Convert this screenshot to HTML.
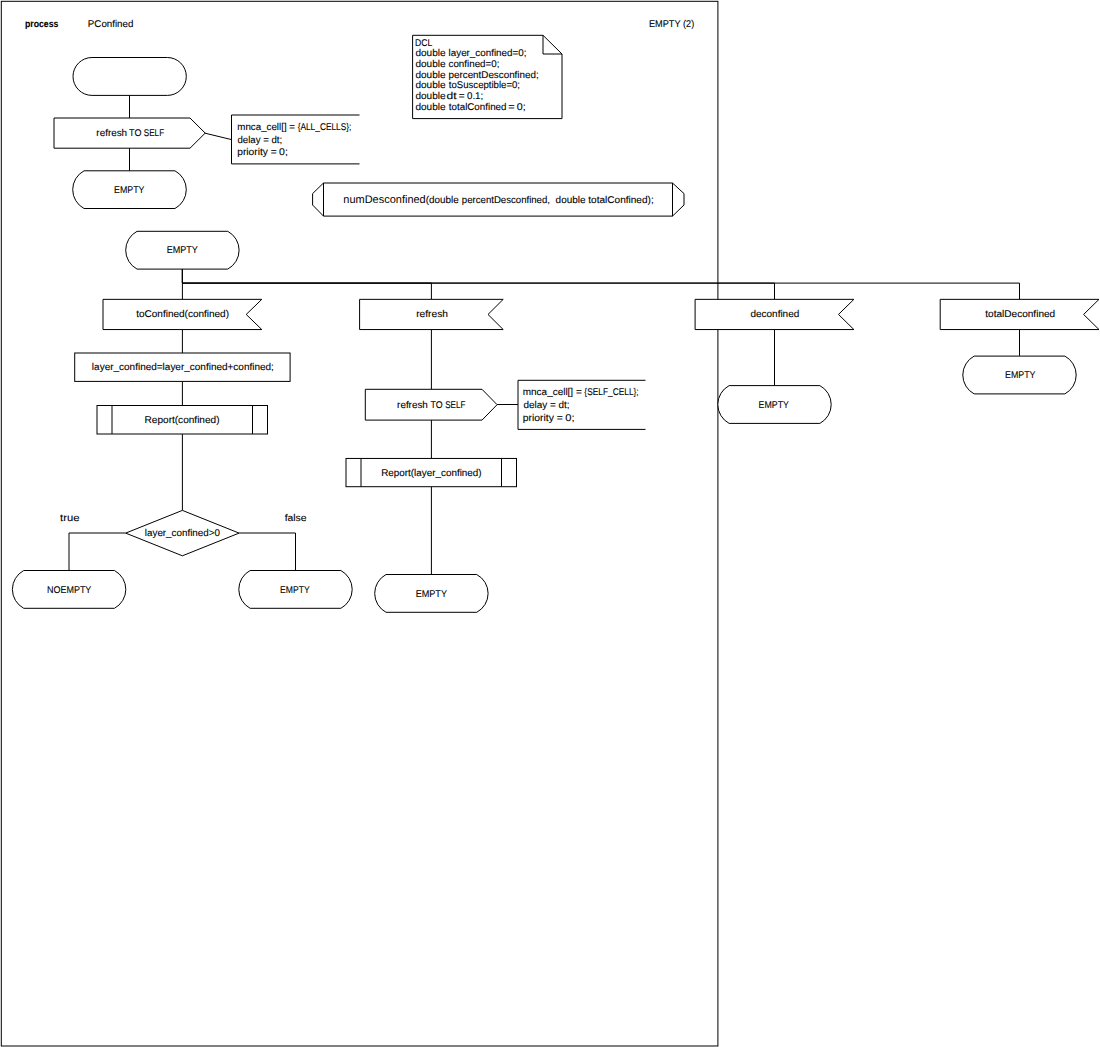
<!DOCTYPE html>
<html lang="en"><head><meta charset="utf-8"><title>process PConfined - EMPTY (2)</title>
<style>
html,body{margin:0;padding:0;background:#fff;}
body{width:1100px;height:1047px;overflow:hidden;}
svg{display:block;}
text{font-family:"Liberation Sans",sans-serif;fill:#000;stroke:#000;stroke-width:0.1px;text-rendering:geometricPrecision;}
</style></head>
<body>
<svg width="1100" height="1047" viewBox="0 0 1100 1047">
<rect x="0" y="0" width="1100" height="1047" fill="#fff"/>
<rect x="1.3" y="1.3" width="716.6" height="1044.7" fill="none" stroke="#000" stroke-width="1"/>
<g stroke="#000" stroke-width="1" fill="none">
<path d="M129.5,95 L129.5,118" fill="none"/>
<path d="M129.5,148 L129.5,171" fill="none"/>
<path d="M204.7,133.1 L231.5,139.6" fill="none"/>
<path d="M182.4,268.5 L182.4,299.4" fill="none"/>
<path d="M182.4,268.5 L182.4,283.1 L431.4,283.1 L431.4,299.3" fill="none"/>
<path d="M182.4,268.5 L182.4,283.1 L774.5,283.1 L774.5,299.3" fill="none"/>
<path d="M182.4,268.5 L182.4,283.1 L1019.5,283.1 L1019.5,299.3" fill="none"/>
<path d="M182.4,329.5 L182.4,353" fill="none"/>
<path d="M182.4,381.4 L182.4,405.6" fill="none"/>
<path d="M182.4,434 L182.4,510.4" fill="none"/>
<path d="M125.7,533.0 L69.0,533.0 L69.0,570.5" fill="none"/>
<path d="M239.1,533.0 L295.5,533.0 L295.5,570.5" fill="none"/>
<path d="M431.4,329.5 L431.4,389.3" fill="none"/>
<path d="M431.4,420.1 L431.4,458.4" fill="none"/>
<path d="M431.4,486.7 L431.4,574.5" fill="none"/>
<path d="M497.1,404.5 L518,404.5" fill="none"/>
<path d="M774.5,329.5 L774.5,385.5" fill="none"/>
<path d="M1019.5,329.5 L1019.5,355.9" fill="none"/>
</g>
<g stroke="#000" stroke-width="1" fill="#fff" stroke-linejoin="miter">
<rect x="73" y="57.5" width="113.3" height="37.9" rx="18.95" ry="18.95"/>
<path d="M54,118 L190.00,118 L205.2,133.10 L190.00,148.2 L54,148.2 Z"/>
<path d="M84.04,170.80 L174.96,170.80 A21.34,21.34 0 0 1 174.96,208.50 L84.04,208.50 A21.34,21.34 0 0 1 84.04,170.80 Z"/>
<path d="M359.5,115 L231.5,115 L231.5,163.9 L359.5,163.9" fill="none"/>
<path d="M412.6,35.3 L543,35.3 L562,54 L562,118.6 L412.6,118.6 Z"/>
<path d="M543,35.3 L543,54 L562,54" fill="none"/>
<path d="M323.5,183 L672.5,183 L684,193.6 L684,205 L672.5,216.1 L323.5,216.1 L312.6,205 L312.6,193.6 Z"/>
<path d="M323.5,183 L323.5,216.1" fill="none"/>
<path d="M672.5,183 L672.5,216.1" fill="none"/>
<path d="M137.04,231.30 L227.76,231.30 A21.42,21.42 0 0 1 227.76,269.10 L137.04,269.10 A21.42,21.42 0 0 1 137.04,231.30 Z"/>
<path d="M103.0,299.35 L261.8,299.35 L246.20,314.45 L261.8,329.55 L103.0,329.55 Z"/>
<path d="M359.6,299.35 L503.2,299.35 L488.00,314.45 L503.2,329.55 L359.6,329.55 Z"/>
<path d="M695.1,299.35 L853.9,299.35 L838.50,314.45 L853.9,329.55 L695.1,329.55 Z"/>
<path d="M940.2,299.35 L1099,299.35 L1083.60,314.45 L1099,329.55 L940.2,329.55 Z"/>
<rect x="74.7" y="353" width="215.4" height="28.4"/>
<rect x="97.0" y="405.5" width="170.50" height="28.50"/>
<path d="M112,405.5 L112,434.0" fill="none"/>
<path d="M252.5,405.5 L252.5,434.0" fill="none"/>
<path d="M182.4,510.4 L239.1,533.1 L182.4,555.8 L125.7,533.1 Z"/>
<path d="M23.74,570.50 L114.46,570.50 A21.42,21.42 0 0 1 114.46,608.30 L23.74,608.30 A21.42,21.42 0 0 1 23.74,570.50 Z"/>
<path d="M250.14,570.50 L340.86,570.50 A21.42,21.42 0 0 1 340.86,608.30 L250.14,608.30 A21.42,21.42 0 0 1 250.14,570.50 Z"/>
<path d="M365.3,389.3 L482.00,389.3 L497.1,404.70 L482.00,420.1 L365.3,420.1 Z"/>
<path d="M645.5,380.3 L518,380.3 L518,429.4 L645.5,429.4" fill="none"/>
<rect x="346.0" y="458.45" width="170.50" height="28.25"/>
<path d="M361,458.45 L361,486.7" fill="none"/>
<path d="M501.5,458.45 L501.5,486.7" fill="none"/>
<path d="M386.04,574.50 L476.76,574.50 A21.42,21.42 0 0 1 476.76,612.30 L386.04,612.30 A21.42,21.42 0 0 1 386.04,574.50 Z"/>
<path d="M729.14,385.60 L819.86,385.60 A21.42,21.42 0 0 1 819.86,423.40 L729.14,423.40 A21.42,21.42 0 0 1 729.14,385.60 Z"/>
<path d="M974.14,356.10 L1064.86,356.10 A21.42,21.42 0 0 1 1064.86,393.90 L974.14,393.90 A21.42,21.42 0 0 1 974.14,356.10 Z"/>
</g>
<g>
<text x="24.98" y="27.00" font-size="9.8" textLength="33.37" lengthAdjust="spacingAndGlyphs" font-weight="bold">process</text>
<text x="87.87" y="27.00" font-size="9.8" textLength="45.45" lengthAdjust="spacingAndGlyphs">PConfined</text>
<text x="648.99" y="26.80" font-size="9.8" textLength="45.23" lengthAdjust="spacingAndGlyphs">EMPTY (2)</text>
<text x="96.39" y="135.80" font-size="9.8" textLength="30.72" lengthAdjust="spacingAndGlyphs">refresh</text>
<text x="129.10" y="135.80" font-size="9.8" textLength="12.34" lengthAdjust="spacingAndGlyphs">TO</text>
<text x="143.80" y="135.80" font-size="9.8" textLength="20.30" lengthAdjust="spacingAndGlyphs">SELF</text>
<text x="114.07" y="192.80" font-size="9.8" textLength="30.40" lengthAdjust="spacingAndGlyphs">EMPTY</text>
<text x="237.29" y="129.90" font-size="9.8" textLength="57.74" lengthAdjust="spacingAndGlyphs">mnca_cell[] =</text>
<text x="297.63" y="129.90" font-size="9.8" textLength="53.80" lengthAdjust="spacingAndGlyphs">{ALL_CELLS};</text>
<text x="237.44" y="142.70" font-size="9.8" textLength="44.76" lengthAdjust="spacingAndGlyphs">delay = dt;</text>
<text x="237.28" y="155.20" font-size="9.8" textLength="39.38" lengthAdjust="spacingAndGlyphs">priority =</text>
<text x="279.12" y="155.20" font-size="9.8" textLength="8.76" lengthAdjust="spacingAndGlyphs">0;</text>
<text x="415.12" y="46.00" font-size="9.8" textLength="17.29" lengthAdjust="spacingAndGlyphs">DCL</text>
<text x="415.43" y="56.00" font-size="9.8" textLength="30.14" lengthAdjust="spacingAndGlyphs">double</text>
<text x="415.43" y="67.00" font-size="9.8" textLength="30.14" lengthAdjust="spacingAndGlyphs">double</text>
<text x="415.43" y="78.00" font-size="9.8" textLength="30.14" lengthAdjust="spacingAndGlyphs">double</text>
<text x="415.43" y="88.00" font-size="9.8" textLength="30.14" lengthAdjust="spacingAndGlyphs">double</text>
<text x="415.43" y="99.00" font-size="9.8" textLength="30.14" lengthAdjust="spacingAndGlyphs">double</text>
<text x="415.43" y="110.00" font-size="9.8" textLength="30.14" lengthAdjust="spacingAndGlyphs">double</text>
<text x="448.60" y="56.00" font-size="9.8" textLength="77.77" lengthAdjust="spacingAndGlyphs">layer_confined=0;</text>
<text x="448.56" y="67.00" font-size="9.8" textLength="50.82" lengthAdjust="spacingAndGlyphs">confined=0;</text>
<text x="448.54" y="78.00" font-size="9.8" textLength="90.13" lengthAdjust="spacingAndGlyphs">percentDesconfined;</text>
<text x="448.87" y="88.00" font-size="9.8" textLength="71.13" lengthAdjust="spacingAndGlyphs">toSusceptible=0;</text>
<text x="446.63" y="99.00" font-size="9.8" textLength="10.09" lengthAdjust="spacingAndGlyphs">dt</text>
<text x="458.71" y="99.00" font-size="9.8" textLength="5.86" lengthAdjust="spacingAndGlyphs">=</text>
<text x="466.98" y="99.00" font-size="9.8" textLength="16.28" lengthAdjust="spacingAndGlyphs">0.1;</text>
<text x="448.85" y="110.00" font-size="9.8" textLength="57.59" lengthAdjust="spacingAndGlyphs">totalConfined</text>
<text x="508.16" y="110.00" font-size="9.8" textLength="6.40" lengthAdjust="spacingAndGlyphs">=</text>
<text x="516.82" y="110.00" font-size="9.8" textLength="8.93" lengthAdjust="spacingAndGlyphs">0;</text>
<text x="343.33" y="203.30" font-size="11.05" textLength="82.39" lengthAdjust="spacingAndGlyphs" style="stroke:none">numDesconfined</text>
<text x="425.81" y="203.30" font-size="9.8" textLength="32.81" lengthAdjust="spacingAndGlyphs">(double</text>
<text x="461.86" y="203.30" font-size="9.8" textLength="88.12" lengthAdjust="spacingAndGlyphs">percentDesconfined,</text>
<text x="555.61" y="203.30" font-size="9.8" textLength="29.90" lengthAdjust="spacingAndGlyphs">double</text>
<text x="588.33" y="203.30" font-size="9.8" textLength="65.35" lengthAdjust="spacingAndGlyphs">totalConfined);</text>
<text x="166.69" y="253.00" font-size="9.8" textLength="31.13" lengthAdjust="spacingAndGlyphs">EMPTY</text>
<text x="136.25" y="317.20" font-size="9.8" textLength="92.76" lengthAdjust="spacingAndGlyphs">toConfined(confined)</text>
<text x="416.17" y="316.70" font-size="9.8" textLength="31.77" lengthAdjust="spacingAndGlyphs">refresh</text>
<text x="750.45" y="316.80" font-size="9.8" textLength="48.83" lengthAdjust="spacingAndGlyphs">deconfined</text>
<text x="985.32" y="316.80" font-size="9.8" textLength="69.85" lengthAdjust="spacingAndGlyphs">totalDeconfined</text>
<text x="91.88" y="369.90" font-size="9.8" textLength="181.99" lengthAdjust="spacingAndGlyphs">layer_confined=layer_confined+confined;</text>
<text x="144.58" y="422.70" font-size="9.8" textLength="74.94" lengthAdjust="spacingAndGlyphs">Report(confined)</text>
<text x="144.83" y="535.70" font-size="9.8" textLength="75.09" lengthAdjust="spacingAndGlyphs">layer_confined&gt;0</text>
<text x="60.03" y="521.00" font-size="9.8" textLength="19.40" lengthAdjust="spacingAndGlyphs">true</text>
<text x="284.68" y="521.00" font-size="9.8" textLength="21.91" lengthAdjust="spacingAndGlyphs">false</text>
<text x="46.96" y="592.80" font-size="9.8" textLength="44.41" lengthAdjust="spacingAndGlyphs">NOEMPTY</text>
<text x="280.06" y="592.80" font-size="9.8" textLength="29.63" lengthAdjust="spacingAndGlyphs">EMPTY</text>
<text x="397.12" y="407.70" font-size="9.8" textLength="30.70" lengthAdjust="spacingAndGlyphs">refresh</text>
<text x="430.46" y="407.70" font-size="9.8" textLength="12.16" lengthAdjust="spacingAndGlyphs">TO</text>
<text x="445.15" y="407.70" font-size="9.8" textLength="20.32" lengthAdjust="spacingAndGlyphs">SELF</text>
<text x="522.79" y="394.70" font-size="9.8" textLength="58.94" lengthAdjust="spacingAndGlyphs">mnca_cell[] =</text>
<text x="584.36" y="394.70" font-size="9.8" textLength="54.32" lengthAdjust="spacingAndGlyphs">{SELF_CELL};</text>
<text x="523.44" y="407.80" font-size="9.8" textLength="46.11" lengthAdjust="spacingAndGlyphs">delay = dt;</text>
<text x="522.77" y="420.80" font-size="9.8" textLength="40.14" lengthAdjust="spacingAndGlyphs">priority =</text>
<text x="565.23" y="420.80" font-size="9.8" textLength="9.28" lengthAdjust="spacingAndGlyphs">0;</text>
<text x="381.18" y="476.00" font-size="9.8" textLength="100.45" lengthAdjust="spacingAndGlyphs">Report(layer_confined)</text>
<text x="415.67" y="596.90" font-size="9.8" textLength="31.30" lengthAdjust="spacingAndGlyphs">EMPTY</text>
<text x="758.59" y="407.80" font-size="9.8" textLength="30.40" lengthAdjust="spacingAndGlyphs">EMPTY</text>
<text x="1005.07" y="377.70" font-size="9.8" textLength="30.44" lengthAdjust="spacingAndGlyphs">EMPTY</text>
</g>
</svg>
</body></html>
